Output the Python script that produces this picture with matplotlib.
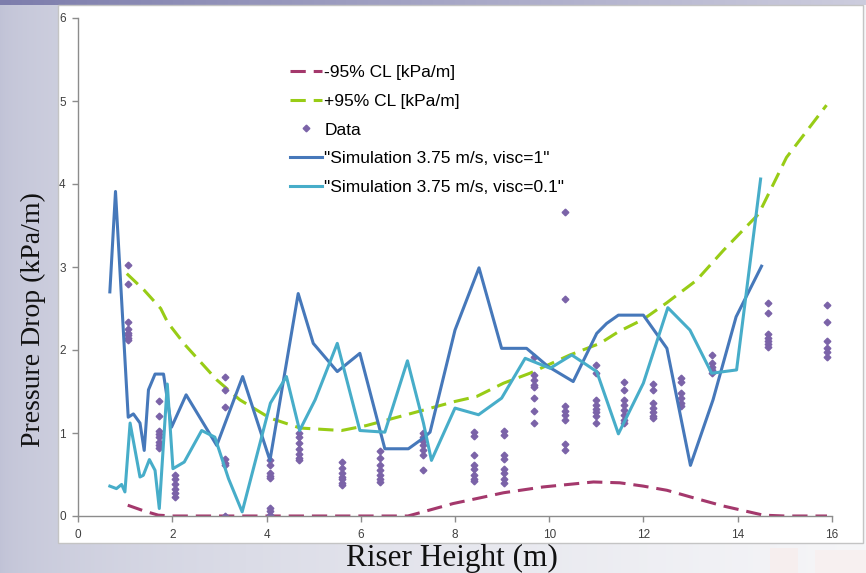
import numpy as np
import matplotlib
matplotlib.use("Agg")
import matplotlib.pyplot as plt
from matplotlib.patches import Rectangle
from matplotlib.font_manager import FontProperties

W, H = 866, 573

# simulation, 3.75 m/s, visc=1
sim1_x = [0.67, 0.79, 1.06, 1.17, 1.31, 1.40, 1.49, 1.63, 1.81, 1.98, 2.29, 2.94,
          3.49, 4.07, 4.67, 4.99, 5.50, 5.98, 6.51, 7.01, 7.33, 7.47, 8.00, 8.51,
          8.99, 9.52, 9.98, 10.51, 11.01, 11.22, 11.47, 12.00, 12.50, 13.00, 13.48,
          13.97, 14.51]
sim1_y = [2.70, 3.91, 1.19, 1.23, 1.12, 0.79, 1.52, 1.71, 1.71, 1.07, 1.46, 0.85,
          1.68, 0.67, 2.68, 2.08, 1.74, 1.96, 0.81, 0.81, 0.94, 1.01, 2.24, 2.99,
          2.02, 2.02, 1.80, 1.62, 2.20, 2.32, 2.42, 2.42, 2.02, 0.61, 1.40,
          2.40, 3.01]

# simulation, 3.75 m/s, visc=0.1
sim2_x = [0.67, 0.81, 0.92, 0.99, 1.10, 1.31, 1.38, 1.51, 1.63, 1.72, 1.89, 2.01,
          2.25, 2.62, 2.90, 3.19, 3.48, 4.08, 4.42, 4.70, 5.03, 5.50, 5.98, 6.51,
          6.99, 7.33, 7.50, 8.00, 8.50, 8.99, 9.49, 10.02, 10.48, 11.01, 11.47,
          12.00, 12.52, 12.99, 13.45, 13.98, 14.49]
sim2_y = [0.36, 0.33, 0.38, 0.29, 1.12, 0.47, 0.49, 0.68, 0.55, 0.09, 1.59, 0.57,
          0.65, 1.03, 0.95, 0.45, 0.05, 1.36, 1.68, 1.03, 1.40, 2.08, 1.03, 1.01,
          1.87, 1.12, 0.67, 1.30, 1.22, 1.42, 1.90, 1.78, 1.94, 1.74, 0.99,
          1.60, 2.51, 2.24, 1.72, 1.76, 4.06]

# 95% confidence limits
hi_x = [1.03, 1.40, 1.75, 1.90, 2.27, 2.94, 3.43, 4.07, 4.71, 5.59, 6.12, 6.97,
        8.00, 8.46, 9.03, 9.59, 10.44, 11.08, 11.47, 12.00, 12.50, 13.13, 13.70,
        14.45, 15.04, 15.89]
hi_y = [2.92, 2.72, 2.50, 2.33, 2.06, 1.64, 1.40, 1.18, 1.06, 1.03, 1.09, 1.22,
        1.38, 1.44, 1.60, 1.72, 1.94, 2.08, 2.22, 2.37, 2.57, 2.84, 3.20,
        3.64, 4.32, 4.95]
lo_x = [1.05, 1.40, 1.70, 2.00, 7.00, 7.26, 7.96, 8.46, 9.03, 9.87, 10.94, 11.50,
        12.00, 12.50, 13.06, 13.70, 14.55, 15.00, 15.90]
lo_y = [0.13, 0.06, 0.01, 0.00, 0.00, 0.04, 0.15, 0.21, 0.28, 0.35, 0.41, 0.40,
        0.36, 0.31, 0.22, 0.12, 0.01, 0.00, 0.00]

# measured pressure drop at each riser height
data_x = [1.05, 1.72, 2.05, 3.12, 4.07, 4.69, 5.61, 6.41, 7.33, 8.41, 9.05, 9.68,
          10.34, 10.99, 11.59, 12.21, 12.81, 13.45, 14.64, 15.89]
data_y = [
    [3.02, 2.79, 2.34, 2.25, 2.21, 2.18, 2.14, 2.12],
    [1.38, 1.21, 1.03, 0.99, 0.95, 0.89, 0.85, 0.82],
    [0.50, 0.44, 0.38, 0.33, 0.28, 0.23],
    [1.68, 1.52, 1.31, 0.69, 0.64, 0.61, 0.0],
    [0.67, 0.61, 0.52, 0.48, 0.46, 0.10, 0.06, 0.01],
    [1.00, 0.95, 0.88, 0.81, 0.75, 0.70, 0.67],
    [0.65, 0.58, 0.52, 0.47, 0.44, 0.40, 0.37],
    [0.78, 0.70, 0.62, 0.56, 0.50, 0.44, 0.41],
    [1.00, 0.95, 0.90, 0.85, 0.80, 0.74, 0.55],
    [1.01, 0.96, 0.73, 0.62, 0.57, 0.50, 0.45, 0.42],
    [1.03, 0.97, 0.74, 0.69, 0.57, 0.52, 0.44, 0.40],
    [1.92, 1.70, 1.64, 1.58, 1.55, 1.42, 1.27, 1.12],
    [3.66, 2.62, 1.32, 1.27, 1.22, 1.16, 0.87, 0.79],
    [1.82, 1.72, 1.40, 1.34, 1.29, 1.25, 1.20, 1.12],
    [1.62, 1.52, 1.40, 1.34, 1.28, 1.22, 1.16, 1.12],
    [1.59, 1.52, 1.36, 1.30, 1.25, 1.20, 1.18],
    [1.66, 1.62, 1.48, 1.42, 1.36, 1.32],
    [1.94, 1.84, 1.80, 1.76, 1.72],
    [2.57, 2.45, 2.19, 2.15, 2.11, 2.07, 2.04],
    [2.54, 2.34, 2.11, 2.02, 1.97, 1.92],
]

x_ticks = [0, 2, 4, 6, 8, 10, 12, 14, 16]
y_ticks = [0, 1, 2, 3, 4, 5, 6]

c_lo = '#A4386C'
c_hi = '#98CC16'
c_data = '#7B63A8'
c_sim1 = '#4678BA'
c_sim2 = '#47ADC9'

fig = plt.figure(figsize=(W / 100, H / 100), dpi=100)

# slide background
bg = fig.add_axes([0, 0, 1, 1], zorder=-5)
t = np.linspace(0, 1, W) ** 0.55
left = np.array([192, 194, 214]) / 255
right = np.array([246, 246, 248]) / 255
row = left[None, :] * (1 - t[:, None]) + right[None, :] * t[:, None]
img = np.repeat(row[None, :, :], H, axis=0)
tb = np.linspace(0, 1, W)[:, None]
band = np.array([125, 125, 172]) / 255 * (1 - tb) + np.array([205, 205, 222]) / 255 * tb
img[:5] = band[None, :, :]
bg.imshow(img, aspect='auto', extent=(0, W, H, 0))
bg.set_xlim(0, W)
bg.set_ylim(H, 0)
bg.axis('off')
bg.add_patch(Rectangle((770, 548), 28, 25, facecolor='#F6EEEE', edgecolor='none'))
bg.add_patch(Rectangle((815, 550), 51, 23, facecolor='#F7F0F0', edgecolor='none'))
bg.add_patch(Rectangle((58, 5), 805, 538, facecolor='white', edgecolor='#C4C4C4', lw=1))

ax = fig.add_axes([78.3 / W, 1 - 516 / H, (831.7 - 78.3) / W, (516 - 18) / H])
ax.patch.set_alpha(0)

ax.plot(lo_x, lo_y, color=c_lo, lw=2.2, dashes=(5, 2.6), label='-95% CL [kPa/m]')
ax.plot(hi_x, hi_y, color=c_hi, lw=2.2, dashes=(5, 2.6), label='+95% CL [kPa/m]')
xs = np.concatenate([[x] * len(v) for x, v in zip(data_x, data_y)])
ys = np.concatenate(data_y)
ax.plot(xs, ys, ls='none', marker='D', ms=3.4, color=c_data, mec=c_data, label='Data')
ax.plot(sim1_x, sim1_y, color=c_sim1, lw=2.2, label='"Simulation 3.75 m/s, visc=1"')
ax.plot(sim2_x, sim2_y, color=c_sim2, lw=2.2, label='"Simulation 3.75 m/s, visc=0.1"')

ax.set_xlim(0, 16)
ax.set_ylim(0, 6)
ax.set_xticks(x_ticks)
ax.set_yticks(y_ticks)
for s in ['top', 'right']:
    ax.spines[s].set_visible(False)
for s in ['left', 'bottom']:
    ax.spines[s].set_color('#8C8C8C')
    ax.spines[s].set_linewidth(1.0)
ax.tick_params(length=4, width=1, color='#8C8C8C', labelcolor='#404040',
               labelsize=8.5, pad=5)
for lab in ax.get_xticklabels() + ax.get_yticklabels():
    lab.set_family('Liberation Sans')

leg = ax.legend(loc='upper left', bbox_to_anchor=(290 / W, 1 - 65 / H),
                bbox_transform=fig.transFigure, frameon=False,
                prop=FontProperties(family='Liberation Sans', size=12.5),
                handlelength=1.85, handletextpad=0.12, labelspacing=0.78,
                borderpad=0, borderaxespad=0, numpoints=1)

fig.text(452 / W, 1 - 558 / H, 'Riser Height (m)', ha='center', va='center',
         fontproperties=FontProperties(family='Liberation Serif', size=22.5),
         color='#111111')
fig.text(33 / W, 1 - 320 / H, 'Pressure Drop (kPa/m)', ha='center', va='center',
         rotation=90, fontproperties=FontProperties(family='Liberation Serif', size=20),
         color='#111111')

fig.savefig('out.png', dpi=100)
